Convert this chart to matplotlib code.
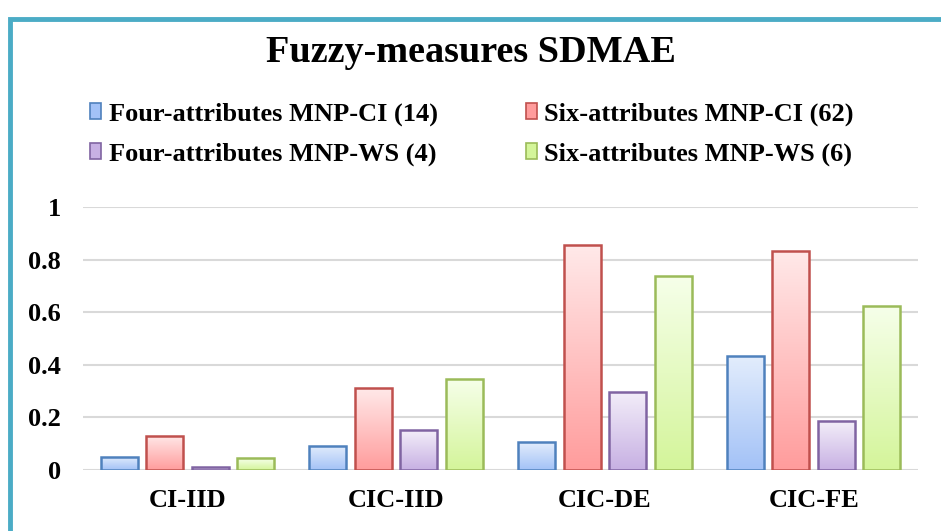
import numpy as np
import matplotlib
matplotlib.use('Agg')
import matplotlib.pyplot as plt
from matplotlib.patches import Rectangle
from matplotlib.colors import LinearSegmentedColormap

# data
categories = ['CI-IID', 'CIC-IID', 'CIC-DE', 'CIC-FE']
series_names = ['Four-attributes MNP-CI (14)', 'Six-attributes MNP-CI (62)',
                'Four-attributes MNP-WS (4)', 'Six-attributes MNP-WS (6)']
four_ci = [0.050, 0.092, 0.105, 0.435]
six_ci = [0.131, 0.310, 0.854, 0.833]
four_ws = [0.010, 0.151, 0.298, 0.186]
six_ws = [0.044, 0.347, 0.739, 0.624]
values = [four_ci, six_ci, four_ws, six_ws]

# styles: edge, top fill, bottom fill
edges = ['#4F81BD', '#C0504D', '#8064A2', '#9BBB59']
tops = ['#E3EDFC', '#FFE9E9', '#F3EEF9', '#F6FFEA']
bottoms = ['#A3C2F7', '#FF9C9C', '#C7B0E3', '#D4F59A']

plt.rcParams['font.family'] = ['Liberation Serif', 'DejaVu Serif']
plt.rcParams['font.weight'] = 'bold'

fig = plt.figure(figsize=(9.41, 5.31), dpi=100)
ax = fig.add_axes([83 / 941, 61 / 531, 835 / 941, 263 / 531])

x = np.arange(len(categories))
width = 0.177
step = 0.218

for j, vals in enumerate(values):
    cmap = LinearSegmentedColormap.from_list('g%d' % j, [bottoms[j], tops[j]])
    grad = np.linspace(0, 1, 256).reshape(-1, 1)
    for i, v in enumerate(vals):
        xl = x[i] + (j - 1.5) * step - width / 2
        bar = Rectangle((xl, 0), width, v, facecolor='none', edgecolor=edges[j],
                        linewidth=1.8, zorder=4)
        ax.add_patch(bar)
        im = ax.imshow(grad, extent=[xl, xl + width, 0, v], origin='lower',
                       cmap=cmap, aspect='auto', zorder=3)
        im.set_clip_path(bar)

ax.set_xlim(-0.5, len(categories) - 0.5)
ax.set_ylim(0, 1)
ax.set_yticks([0, 0.2, 0.4, 0.6, 0.8, 1])
ax.set_yticklabels(['0', '0.2', '0.4', '0.6', '0.8', '1'])
ax.set_xticks(x)
ax.set_xticklabels(categories)
ax.tick_params(length=0, labelsize=19, pad=16)
ax.tick_params(axis='x', pad=14)
ax.yaxis.grid(True, color='#D9D9D9', linewidth=1.5, zorder=0)
ax.set_axisbelow(True)
for s in ax.spines.values():
    s.set_visible(False)
for lbl in ax.get_xticklabels() + ax.get_yticklabels():
    lbl.set_fontweight('bold')

fig.text(0.5, 1 - 52 / 531, 'Fuzzy-measures SDMAE', ha='center', va='center',
         fontsize=27.5, fontweight='bold')

handles = [Rectangle((0, 0), 1, 1, facecolor=bottoms[j], edgecolor=edges[j], linewidth=1.2)
           for j in range(4)]
# legend fills column by column: reorder so rows read CI, CI / WS, WS
order = [0, 2, 1, 3]
leg = fig.legend([handles[k] for k in order], [series_names[k] for k in order],
                 ncol=2, loc='center',
                 bbox_to_anchor=(472 / 941, 1 - 134 / 531), frameon=False,
                 prop={'size': 19, 'weight': 'bold'}, handlelength=0.4,
                 handleheight=0.55, handletextpad=0.3, columnspacing=3.35,
                 labelspacing=0.62)

# outer frame
fig.patches.append(Rectangle((10 / 941, -0.2), 1.5, 0.2 + 1 - 19 / 531,
                             transform=fig.transFigure, fill=False,
                             edgecolor='#4BACC6', linewidth=3.5))

fig.savefig('out.png', dpi=100)
